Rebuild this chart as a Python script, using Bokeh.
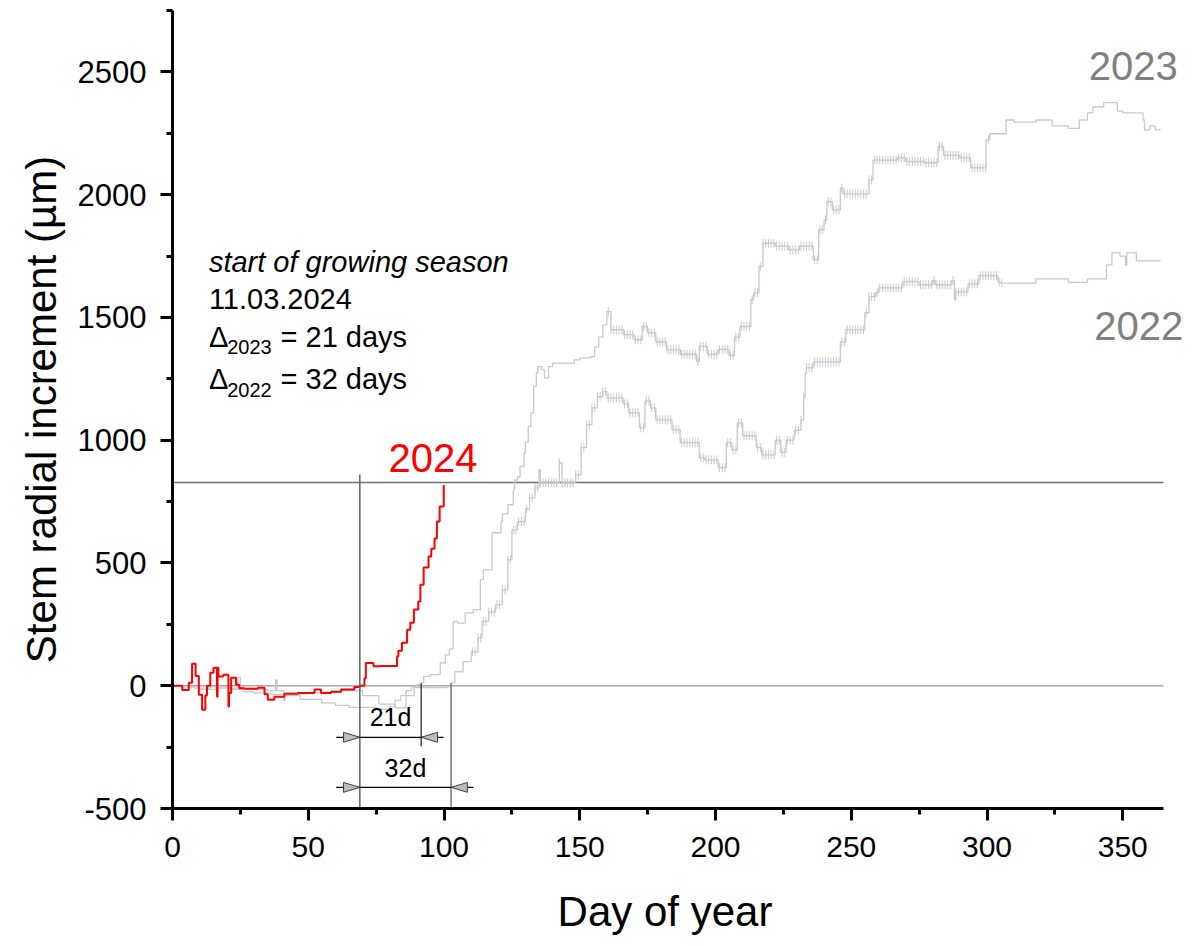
import numpy as np
from bokeh.plotting import figure
from bokeh.models import Label, SingleIntervalTicker, Range1d
from bokeh.embed import file_html
from bokeh.resources import INLINE

# ---------------- data ----------------
days_2024 = [0, 3.6, 6, 7.2, 8.5, 9.7, 10.9, 12.1, 12.7, 13.9, 15.1, 16.4, 16.6, 16.9, 18.7,
             20.6, 20.8, 21.6, 23.4, 24.6, 26.5, 31.4, 33.9, 35.1, 37.5, 41.2, 46.1, 52.3,
             54.7, 58.4, 62.1, 67, 69, 70.7, 71.2, 74, 76.6, 82.7, 83.2, 84.5, 86.4, 87.6,
             88.9, 90.5, 91.3, 92.5, 94.3, 95.3, 96.5, 97.4, 98.4, 99.9]
incr_2024 = [0, -17, 12, 90, 40, -37, -98, -40, 0, 53, 73, -45, 73, 38, 45,
             -85, -30, 32, 4, -10, -12, -8, -35, -57, -45, -33, -30, -15,
             -30, -25, -15, -5, 0, 30, 93, 79, 80, 120, 142, 175, 228, 256,
             310, 343, 411, 482, 526, 558, 600, 669, 730, 818]

days_2023 = [0, 3, 8, 14, 20, 24, 25, 30, 35, 38, 38.5, 41, 41.5, 45, 47, 55, 60, 65, 75, 80,
             82, 84, 86, 88, 90, 91.6, 92.5, 95, 98.6, 100.5, 102, 103.4, 105, 107.8, 110.8,
             113.4, 114.5, 117.7, 121, 121.5, 123.5, 125.5, 126, 127, 128, 129.5, 130, 131,
             132, 133, 134, 134.5, 136, 137, 138.5, 140, 148, 150, 154, 155.5, 157, 158.5,
             160, 161.5, 166, 170, 173, 175, 178, 182, 187, 193, 194, 197, 201, 205, 207,
             209, 213, 214, 216, 217.5, 222, 227, 231, 236, 238, 240, 241, 243, 246, 247,
             256.5, 258, 267, 270, 277, 282, 284, 290, 294, 299.6, 301, 307, 310, 318, 324,
             330, 334, 337, 339, 343, 348, 350, 357.5, 358, 360, 362, 364]
incr_2023 = [0, -5, -10, -5, -10, 35, -10, -15, -20, 24, -20, -60, -30, -35, -55, -70, -80, -88, -95, -85,
             -60, -40, -20, -5, 5, 12, 38, 45, 93, 126, 150, 262, 255, 297, 310,
             432, 472, 623, 669, 700, 737, 798, 838, 850, 893, 948, 992, 1056,
             1111, 1219, 1273, 1300, 1287, 1254, 1300, 1314, 1327, 1335, 1340, 1380, 1420, 1470,
             1524, 1450, 1430, 1409, 1463, 1437, 1400, 1368, 1350, 1320, 1382, 1350, 1370, 1345, 1420,
             1463, 1572, 1600, 1707, 1802, 1790, 1775, 1790, 1735, 1857, 1897, 1972, 1938, 2027, 2003,
             2060, 2141, 2150, 2135, 2130, 2196, 2160, 2150, 2109, 2223, 2248, 2304, 2295, 2304, 2280,
             2270, 2304, 2333, 2358, 2375, 2340, 2333, 2304, 2264, 2280, 2264, 2264]

days_2022 = [0, 4, 10, 16, 22, 26, 30, 36, 42, 47, 52, 56, 62, 70, 76, 82, 86, 89, 101,
             102.6, 104, 107, 110, 112.5, 114, 116.5, 119, 121.5, 123.5, 125, 127, 130, 131.5,
             133.5, 135, 135.5, 142.5, 143.5, 148.5, 150.5, 152.5, 154.5, 156.5, 158.5, 160, 166,
             168, 172, 174, 176, 178, 184, 187, 194, 196, 201, 204, 206, 208, 210, 215, 217,
             222, 224, 226, 229, 231.5, 232.5, 233, 233.5, 236, 246, 248, 255, 256.5, 259, 260,
             269, 275, 280, 281, 287, 288, 288.5, 293, 297, 304, 305, 318, 330, 337, 344, 346,
             349, 351, 351.5, 355, 364]
incr_2022 = [0, -5, -15, -10, -15, -25, -30, -35, -40, -30, -28, -25, -20, -40, -75, -90, -40, -8, -4,
             12, 57, 98, 138, 195, 262, 300, 330, 390, 513, 635, 668, 720, 765,
             806, 880, 826, 908, 826, 859, 970, 1063, 1132, 1177, 1198, 1172, 1148,
             1111, 1050, 1160, 1132, 1083, 1042, 990, 928, 920, 888, 990, 960, 1070, 1018, 970, 940,
             1000, 950, 1000, 1040, 1083, 1177, 1274, 1295, 1319, 1400, 1450, 1519, 1585, 1600, 1620,
             1646, 1633, 1650, 1633, 1650, 1572, 1604, 1637, 1670, 1645, 1640, 1657, 1643, 1657, 1714, 1763,
             1750, 1714, 1763, 1730, 1730]

# days where daily ranges (whiskers) are drawn on the two reference years
whisker_days_2023 = (160, 300)
whisker_days_2022 = (110, 305)

# annotation values
season_start = 69.0        # day where 2024 growth starts
zero_cross_2023 = 91.6
zero_cross_2022 = 102.6
level_2024 = 828           # horizontal reference level
dim_levels = [-210, -414]  # y of the dimension arrows
dim_labels = ["21d", "32d"]

x_axis_span = (0, 365)
y_axis_span = (-500, 2750)
x_tick_interval = 50
y_tick_interval = 500

FONT = "Liberation Sans"
GRAY = "#c8c8d0"

# ---------------- figure ----------------
FRAME_LEFT, FRAME_AXIS_RIGHT, W, H = 172, 1163, 1192, 938
x_end = x_axis_span[0] + (x_axis_span[1] - x_axis_span[0]) * (W - FRAME_LEFT) / (FRAME_AXIS_RIGHT - FRAME_LEFT)

p = figure(width=W, height=H, x_range=Range1d(x_axis_span[0], x_end), y_range=Range1d(*y_axis_span),
           output_backend="svg", toolbar_location=None,
           min_border_left=FRAME_LEFT, min_border_right=0, min_border_top=10, min_border_bottom=H - 808)
p.outline_line_color = None
p.xgrid.visible = False
p.ygrid.visible = False
p.background_fill_color = "white"
p.border_fill_color = "white"

p.xaxis.ticker = SingleIntervalTicker(interval=x_tick_interval, num_minor_ticks=2)
p.yaxis.ticker = SingleIntervalTicker(interval=y_tick_interval, num_minor_ticks=2)
p.xaxis.bounds = x_axis_span
p.yaxis.major_label_overrides = {-500: "-500"}
for ax in (p.xaxis[0], p.yaxis[0]):
    ax.axis_line_width = 3
    ax.axis_line_color = "black"
    ax.major_tick_line_width = 3
    ax.minor_tick_line_width = 3
    ax.major_tick_in = 0
    ax.major_tick_out = 12
    ax.minor_tick_in = 0
    ax.minor_tick_out = 6
    ax.major_label_text_font = FONT
    ax.major_label_text_color = "black"
    ax.axis_label_text_font = FONT
    ax.axis_label_text_font_size = "42px"
    ax.axis_label_text_font_style = "normal"
    ax.axis_label_text_color = "black"
p.xaxis.major_label_text_font_size = "30px"
p.yaxis.major_label_text_font_size = "31px"
# trailing no-break spaces keep the title centred under the axis span rather than the frame
p.xaxis.axis_label = "Day of year\u00a0\u00a0\u00a0"
p.yaxis.axis_label = "Stem radial increment (µm)"
p.xaxis.major_label_standoff = 16
p.yaxis.major_label_standoff = 14
p.xaxis.axis_label_standoff = 28
p.yaxis.axis_label_standoff = 10

# reference lines (limited to the axis span)
p.segment(x0=[x_axis_span[0]], y0=[0], x1=[x_axis_span[1]], y1=[0], line_color="#a8a8a8", line_width=1.5)
p.segment(x0=[x_axis_span[0]], y0=[level_2024], x1=[x_axis_span[1]], y1=[level_2024],
          line_color="#707070", line_width=1.5)

# whiskers (daily ranges) for gray series
def step_value(dd, vv, d):
    i = np.searchsorted(np.array(dd), d, side="right") - 1
    return np.array(vv)[np.clip(i, 0, len(vv) - 1)]

for dd, vv, win in [(days_2023, incr_2023, whisker_days_2023), (days_2022, incr_2022, whisker_days_2022)]:
    wd = np.arange(win[0], win[1] + 1, 1.0) + 0.5
    wv = step_value(dd, vv, wd)
    p.segment(x0=wd, y0=wv - 18, x1=wd, y1=wv + 18, line_color=GRAY, line_width=1)

p.step(days_2023, incr_2023, mode="after", line_color=GRAY, line_width=1.3)
p.step(days_2022, incr_2022, mode="after", line_color=GRAY, line_width=1.3)
p.step(days_2024, incr_2024, mode="after", line_color="#ff0000", line_width=2)

# vertical marker lines
vline_col = "#606060"
p.segment(x0=[season_start], y0=[level_2024 + 32], x1=[season_start], y1=[-560],
          line_color=vline_col, line_width=1.5)
p.segment(x0=[zero_cross_2023], y0=[10], x1=[zero_cross_2023], y1=[-247],
          line_color="#303030", line_width=1.3)
p.segment(x0=[zero_cross_2022], y0=[10], x1=[zero_cross_2022], y1=[-560],
          line_color=vline_col, line_width=1.3)


def add_label(x, y, text, size, color="black", **kw):
    p.add_layout(Label(x=x, y=y, text=text, text_font=FONT, text_font_size=f"{size}px",
                       text_color=color, text_baseline="alphabetic", y_offset=round(0.35 * size), **kw))


# dimension arrows
tri_len = 6.0
tri_h = 20
for yl, xe, lab in zip(dim_levels, [zero_cross_2023, zero_cross_2022], dim_labels):
    p.segment(x0=[season_start - 8.7], y0=[yl], x1=[xe + 8.2], y1=[yl], line_color="black", line_width=1.3)
    p.patches(xs=[[season_start - tri_len, season_start - tri_len, season_start],
                  [xe + tri_len, xe + tri_len, xe]],
              ys=[[yl + tri_h, yl - tri_h, yl], [yl + tri_h, yl - tri_h, yl]],
              fill_color="#bdbdbd", line_color="#404040", line_width=1)
    add_label((season_start + xe) / 2, yl + 44, lab, 25, text_align="center")

# year labels
add_label(79.6, 872, "2024", 40, "#ff0000")
add_label(337.5, 2465, "2023", 40, "#808080")
add_label(339.5, 1409, "2022", 40, "#808080")

# annotation block
tx = 13.4
add_label(tx, 1684, "start of growing season", 29, text_font_style="italic")
add_label(tx, 1535, "11.03.2024", 29)
for yb, ys, sub, rest in [(1379, 1352, "2023", "= 21 days"), (1209, 1175, "2022", "= 32 days")]:
    add_label(tx, yb, "Δ", 29)
    add_label(20.15, ys, sub, 20)
    add_label(39.8, yb, rest, 29)

open("out.html", "w").write(file_html(p, INLINE))
